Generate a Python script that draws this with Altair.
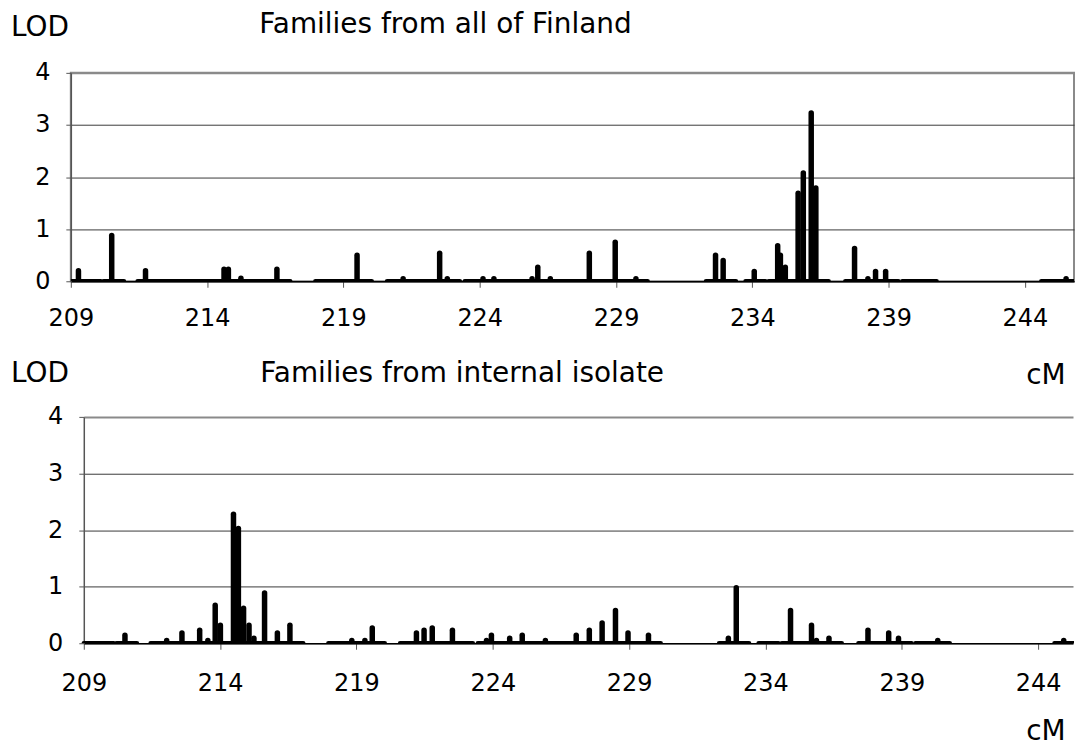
import altair as alt
import pandas as pd

# ---- data ----
top_pos = [209.28, 210.50, 211.74, 214.62, 214.78, 215.24, 216.56, 219.50, 221.19, 222.53,
           222.81, 224.12, 224.52, 225.92, 226.13, 226.59, 228.02, 228.97, 229.73, 232.65,
           232.93, 234.07, 234.93, 235.03, 235.21, 235.68, 235.87, 236.16, 236.33, 237.75,
           238.24, 238.52, 238.89, 245.51]
top_lod = [0.20, 0.88, 0.20, 0.23, 0.23, 0.06, 0.23, 0.50, 0.05, 0.54,
           0.05, 0.05, 0.05, 0.05, 0.27, 0.05, 0.54, 0.75, 0.05, 0.50,
           0.40, 0.19, 0.68, 0.50, 0.27, 1.69, 2.08, 3.23, 1.79, 0.63,
           0.05, 0.19, 0.19, 0.05]

bot_pos = [210.51, 212.04, 212.60, 213.25, 213.55, 213.82, 214.01, 214.49, 214.67, 214.86,
           215.06, 215.24, 215.63, 216.10, 216.56, 218.83, 219.31, 219.58, 221.20, 221.48,
           221.78, 222.52, 223.77, 223.95, 224.62, 225.08, 225.93, 227.06, 227.54, 228.01,
           228.50, 228.96, 229.71, 232.64, 232.93, 234.92, 235.69, 235.87, 236.33, 237.76,
           238.52, 238.88, 240.32, 244.94]
bot_lod = [0.14, 0.05, 0.18, 0.23, 0.05, 0.67, 0.32, 2.28, 2.03, 0.62,
           0.32, 0.09, 0.89, 0.18, 0.32, 0.05, 0.05, 0.27, 0.18, 0.23,
           0.27, 0.23, 0.05, 0.14, 0.09, 0.14, 0.05, 0.14, 0.23, 0.36,
           0.58, 0.18, 0.14, 0.09, 0.98, 0.58, 0.32, 0.05, 0.09, 0.23,
           0.18, 0.09, 0.05, 0.05]

# stretches of the map where LOD is ~0 (drawn as the thick baseline)
seg_start = [209.0, 210.2, 211.45, 217.97, 220.6, 223.45, 232.3, 233.75, 234.6, 237.41, 239.5, 244.6]
seg_end = [210.1, 210.95, 217.05, 220.04, 223.27, 230.16, 233.4, 234.48, 236.8, 239.36, 240.76, 246.0]

x_ticks = [209, 214, 219, 224, 229, 234, 239, 244]
y_ticks = [0, 1, 2, 3, 4]

FONT = "DejaVu Sans"
W = 1006


def panel(pos, lod, x_max, x_range, y_offset, height, label_pad, texts, stroke):
    xs = alt.Scale(domain=[209, x_max], range=x_range, nice=False, zero=False)
    ys = alt.Scale(domain=[0, 4], nice=False)
    xaxis = alt.Axis(values=x_ticks, format="d", title=None, grid=False,
                     labelFont=FONT, labelFontSize=24, labelColor="black",
                     labelPadding=label_pad, labelFlush=False, labelOverlap=False,
                     tickSize=6, tickColor="#555555", tickWidth=1,
                     domainColor="black", domainWidth=1.5)
    yaxis = alt.Axis(values=y_ticks, format="d", title=None, grid=True, offset=y_offset,
                     gridColor={"condition": {"test": "datum.value === 4", "value": "#8a8a8a"}, "value": "#3a3a3a"},
                     gridWidth={"condition": {"test": "datum.value === 4", "value": 2}, "value": 1},
                     labelFont=FONT, labelFontSize=24, labelColor="black",
                     labelPadding=16, tickSize=5, tickColor="#555555",
                     domainColor="#555555", domainWidth=1.5)

    seg_df = pd.DataFrame({"start": seg_start, "end": seg_end, "base": [0] * len(seg_start)})
    base = alt.Chart(seg_df).mark_rule(color="black", strokeWidth=4.5, strokeCap="round", clip=True).encode(
        x=alt.X("start:Q", scale=xs, axis=xaxis),
        x2="end:Q",
        y=alt.Y("base:Q", scale=ys, axis=yaxis),
    )

    bar_df = pd.DataFrame({"cM": pos, "LOD": lod, "base": [0] * len(pos)})
    bars = alt.Chart(bar_df).mark_rule(color="black", strokeWidth=5.5, strokeCap="round", clip=True).encode(
        x=alt.X("cM:Q", scale=xs, axis=xaxis),
        y=alt.Y("base:Q", scale=ys, axis=yaxis),
        y2="LOD:Q",
    )

    layers = [base, bars]
    for txt, tx, ty in texts:
        tdf = pd.DataFrame({"t": [txt]})
        layers.append(
            alt.Chart(tdf).mark_text(align="left", baseline="alphabetic", font=FONT,
                                     fontSize=28, color="black").encode(
                x=alt.value(tx), y=alt.value(ty), text="t:N")
        )
    return alt.layer(*layers).properties(
        width=W, height=height,
        view=alt.ViewBackground(stroke=stroke, strokeWidth=2, strokeOpacity=1 if stroke else 0),
    )


top_texts = [("LOD", -60, -36.5), ("Families from all of Finland", 189, -40.3)]
bot_texts = [("LOD", -60, -35), ("Families from internal isolate", 190, -35),
             ("cM", 958, -33), ("cM", 958, 324)]

top = panel(top_pos, top_lod, 245.8, [0, W], 0, 209, 19.5, top_texts, "#8a8a8a")
bottom = panel(bot_pos, bot_lod, 245.28, [13, 1005], -13, 227, 22.5, bot_texts, "")

chart = alt.vconcat(top, bottom, spacing=28,
                    padding={"left": 2, "top": 0, "right": 0, "bottom": 0}).configure_view(
    strokeWidth=0
).configure(background="white")

chart.save("out.html", embed_options={"renderer": "svg", "actions": False})
